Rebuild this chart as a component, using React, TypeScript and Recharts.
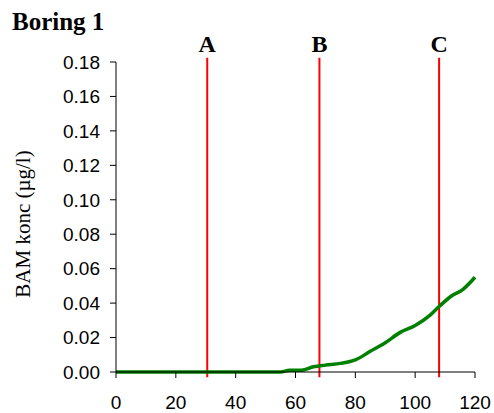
import { CartesianGrid, Line, LineChart, ReferenceLine, XAxis, YAxis } from "recharts";

// BAM concentration along Boring 1
const depth = [0, 10, 20, 30, 40, 50, 55, 58, 62, 66, 70, 75, 80, 85, 90, 95, 100, 105, 108, 112, 116, 120];
const bamConc = [0, 0, 0, 0, 0, 0, 0, 0.001, 0.001, 0.003, 0.004, 0.005, 0.007, 0.012, 0.017, 0.023, 0.027, 0.033, 0.038, 0.044, 0.048, 0.055];

const markerNames = ["A", "B", "C"];
const markerPositions = [30.5, 68, 108];

const xTicks = [0, 20, 40, 60, 80, 100, 120];
const yTicks = [0, 0.02, 0.04, 0.06, 0.08, 0.1, 0.12, 0.14, 0.16, 0.18];

const data = depth.map((d, i) => ({ depth: d, bam: bamConc[i] }));

const tickStyle = { fill: "#000", fontSize: 19, fontFamily: "Liberation Sans, Arial, sans-serif" };

export default function App() {
  return (
    <div style={{ position: "absolute", left: 0, top: 0, width: 494, height: 413, background: "#fff" }}>
      <LineChart width={494} height={413} data={data} margin={{ top: 62, right: 19, bottom: 0, left: 0 }}>
        <CartesianGrid stroke="none" />
        <XAxis
          dataKey="depth"
          type="number"
          domain={[0, 120]}
          ticks={xTicks}
          height={41}
          tickSize={6}
          tickMargin={18}
          stroke="#000"
          tick={tickStyle}
          interval={0}
        />
        <YAxis
          type="number"
          domain={[0, 0.18]}
          ticks={yTicks}
          width={116}
          tickSize={6}
          tickMargin={10}
          stroke="#000"
          tick={tickStyle}
          interval={0}
          tickFormatter={(v: number) => v.toFixed(2)}
        />
        {markerPositions.map((x, i) => (
          <ReferenceLine
            key={markerNames[i]}
            segment={[
              { x, y: -0.003 },
              { x, y: 0.1825 },
            ]}
            ifOverflow="visible"
            stroke="#ff0000"
            strokeWidth={2}
            label={{
              value: markerNames[i],
              position: "top",
              offset: 6,
              fill: "#000",
              fontSize: 24,
              fontWeight: "bold",
              fontFamily: "Liberation Serif, Times New Roman, serif",
            }}
          />
        ))}
        <Line
          dataKey="bam"
          type="monotone"
          stroke="#008000"
          strokeWidth={3.5}
          dot={false}
          isAnimationActive={false}
        />
      </LineChart>
      <div
        style={{
          position: "absolute",
          left: 12,
          top: 8,
          fontFamily: "Liberation Serif, Times New Roman, serif",
          fontWeight: "bold",
          fontSize: 25,
          lineHeight: "28px",
          color: "#000",
        }}
      >
        Boring 1
      </div>
      <div
        style={{
          position: "absolute",
          left: 23 - 110,
          top: 224 - 12,
          width: 220,
          height: 24,
          lineHeight: "24px",
          textAlign: "center",
          transform: "rotate(-90deg)",
          fontFamily: "Liberation Serif, Times New Roman, serif",
          fontSize: 21,
          color: "#000",
          whiteSpace: "nowrap",
        }}
      >
        BAM konc (µg/l)
      </div>
    </div>
  );
}
